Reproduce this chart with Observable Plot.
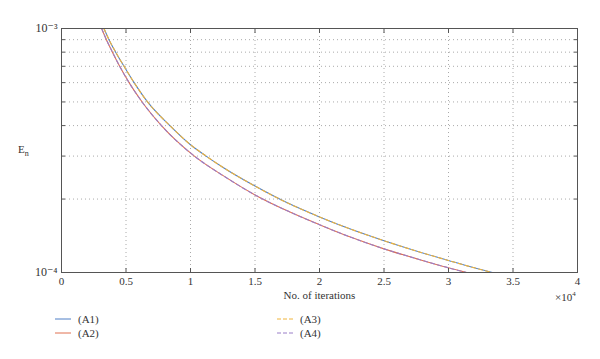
<!DOCTYPE html>
<html>
<head>
<meta charset="utf-8">
<script src="https://cdn.jsdelivr.net/npm/d3@7"></script>
<script src="https://cdn.jsdelivr.net/npm/@observablehq/plot@0.6"></script>
<style>
  html, body { margin: 0; padding: 0; background: #fff; }
  #wrap { position: relative; width: 600px; height: 359px; font-family: "Liberation Serif", "DejaVu Serif", serif; color: #333; }
  .ov { position: absolute; font-size: 11px; white-space: nowrap; }
  .leg { position: absolute; font-size: 11px; display: flex; align-items: center; }
  .leg svg { margin-right: 7px; }
</style>
</head>
<body>
<div id="wrap"></div>
<script>
// ---- data (x in units of 1e4 iterations) ----
const upperX = [0.329, 0.368, 0.420, 0.485, 0.563, 0.667, 0.84, 1.0, 1.121, 1.25, 1.5, 1.75, 2.0, 2.25, 2.5, 2.75, 3.0, 3.2, 3.34];
const upperE = [1e-3, 9e-4, 8e-4, 7e-4, 6e-4, 5e-4, 4e-4, 3.34e-4, 3e-4, 2.7e-4, 2.26e-4, 1.93e-4, 1.69e-4, 1.5e-4, 1.35e-4, 1.225e-4, 1.12e-4, 1.045e-4, 1e-4];
const lowerX = [0.311, 0.348, 0.395, 0.451, 0.524, 0.625, 0.775, 1.03, 1.25, 1.5, 1.75, 2.0, 2.25, 2.5, 2.75, 3.0, 3.14];
const lowerE = [1e-3, 9e-4, 8e-4, 7e-4, 6e-4, 5e-4, 4e-4, 3e-4, 2.5e-4, 2.08e-4, 1.79e-4, 1.57e-4, 1.39e-4, 1.25e-4, 1.14e-4, 1.045e-4, 1e-4];
const series = ["(A1)", "(A2)", "(A3)", "(A4)"];
const seriesX = [upperX, lowerX, upperX, lowerX];
const seriesE = [upperE, lowerE, upperE, lowerE];
const colors = ["#4f7fc6", "#e07050", "#f0b43a", "#9a7ec8"];
const dashed = [false, false, true, true];
const xTicks = [0, 0.5, 1, 1.5, 2, 2.5, 3, 3.5, 4];
const xGrid = [0.5, 1, 1.5, 2, 2.5, 3, 3.5];
const yTicks = [1e-4, 2e-4, 3e-4, 4e-4, 5e-4, 6e-4, 7e-4, 8e-4, 9e-4, 1e-3];
const yGrid = [2e-4, 3e-4, 4e-4, 5e-4, 6e-4, 7e-4, 8e-4, 9e-4];
const yLabels = {"0.0001": "10⁻⁴", "0.001": "10⁻³"};

const rows = series.map((s, i) => seriesX[i].map((x, j) => ({s, x, e: seriesE[i][j]})));

const gridStyle = {stroke: "#aaa", strokeOpacity: 1, strokeDasharray: "1,3"};
const ink = "#555";
const lineMark = i => Plot.line(rows[i], {
  x: "x", y: "e", stroke: colors[i], strokeWidth: 1.1,
  strokeDasharray: dashed[i] ? "4,3" : null, curve: "monotone-x", clip: true
});

const chart = Plot.plot({
  width: 600,
  height: 359,
  marginLeft: 61,
  marginRight: 23,
  marginTop: 28,
  marginBottom: 87,
  style: {fontFamily: "Liberation Serif, DejaVu Serif, serif", fontSize: "11px", color: "#333", background: "#fff"},
  x: {domain: [0, 4]},
  y: {type: "log", domain: [1e-4, 1e-3]},
  marks: [
    Plot.gridX(xGrid, gridStyle),
    Plot.gridY(yGrid, gridStyle),
    lineMark(0), lineMark(1), lineMark(2), lineMark(3),
    Plot.frame({stroke: ink, strokeWidth: 1}),
    Plot.axisX(xTicks, {anchor: "bottom", tickSize: -4, stroke: ink, text: null, label: null}),
    Plot.axisX(xTicks, {anchor: "top", tickSize: -4, stroke: ink, text: null, label: null}),
    Plot.axisX(xTicks, {anchor: "bottom", tickSize: 0, tickPadding: 5, tickFormat: d => String(d), label: null, fill: "#333"}),
    Plot.axisY(yTicks, {anchor: "left", tickSize: -4, stroke: ink, text: null, label: null}),
    Plot.axisY(yTicks, {anchor: "right", tickSize: -4, stroke: ink, text: null, label: null}),
    Plot.axisY([1e-4, 1e-3], {anchor: "left", tickSize: 0, tickPadding: 4, fontSize: 12, tickFormat: d => yLabels[String(d)], label: null, fill: "#333"}),
    Plot.text(["No. of iterations"], {frameAnchor: "bottom", dy: 26, fill: "#333", fontSize: 11})
  ]
});

const wrap = document.getElementById("wrap");
wrap.appendChild(chart);

function ov(html, left, top) {
  const d = document.createElement("div");
  d.className = "ov";
  d.innerHTML = html;
  d.style.left = left + "px";
  d.style.top = top + "px";
  wrap.appendChild(d);
}
ov('E<sub style="font-size:8px">n</sub>', 18, 143);
ov('×10<sup style="font-size:7px">4</sup>', 555, 290);

const legPos = [[55, 313], [55, 327], [277, 313], [277, 327]];
series.forEach((s, i) => {
  const d = document.createElement("div");
  d.className = "leg";
  d.style.left = legPos[i][0] + "px";
  d.style.top = legPos[i][1] + "px";
  d.innerHTML = `<svg width="16" height="10"><line x1="0" y1="5" x2="16" y2="5" stroke="${colors[i]}" stroke-width="1" ${dashed[i] ? 'stroke-dasharray="4,2"' : ''}/></svg><span>${s}</span>`;
  wrap.appendChild(d);
});
</script>
</body>
</html>
